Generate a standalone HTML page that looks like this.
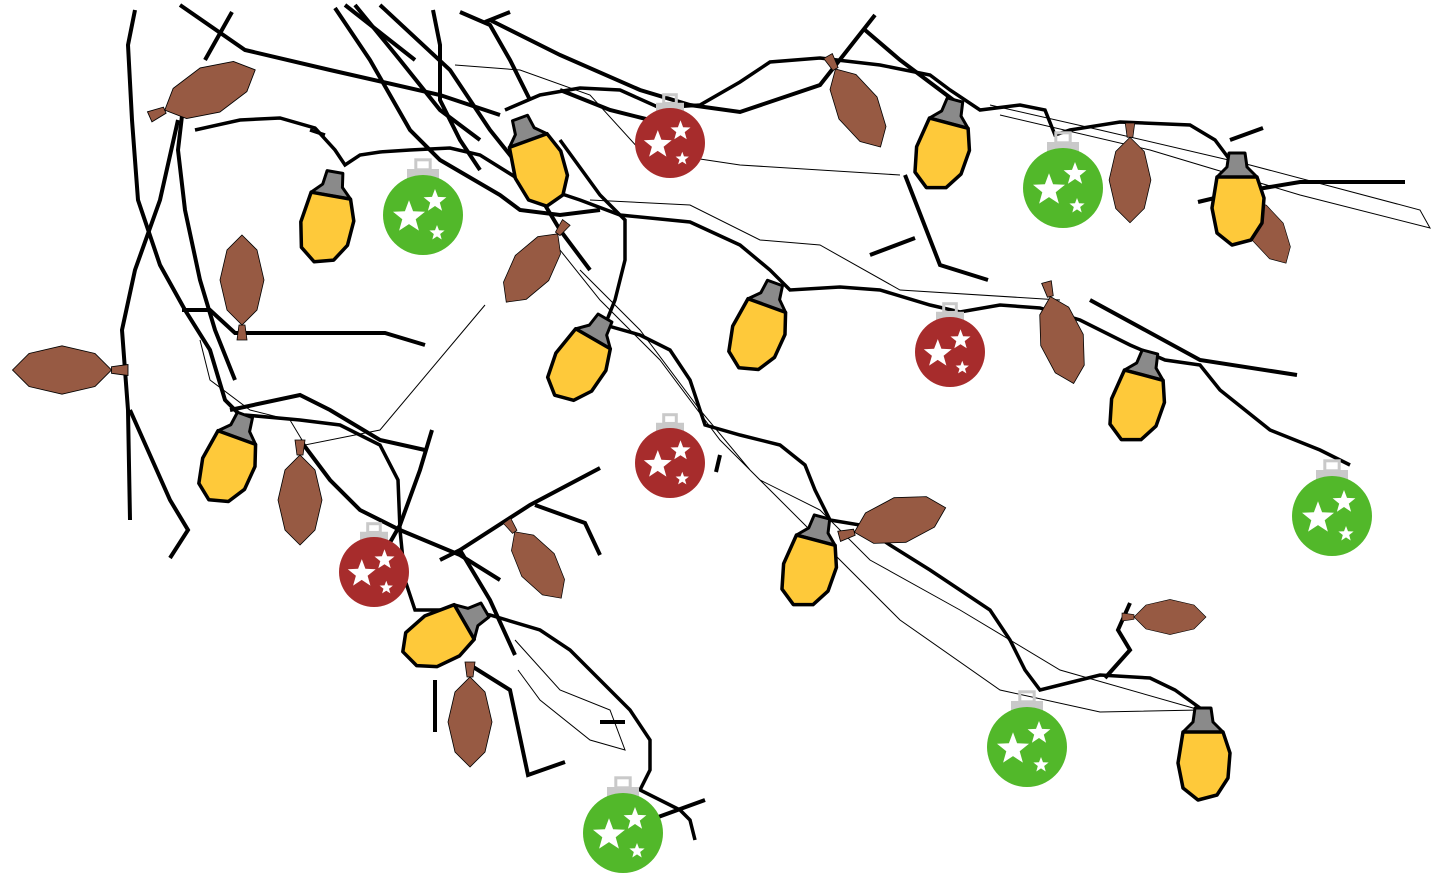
<!DOCTYPE html>
<html><head><meta charset="utf-8"><style>
html,body{margin:0;padding:0;background:#fff;width:1433px;height:882px;overflow:hidden}
svg{display:block}
</style></head><body>
<svg id="art" width="1433" height="882" viewBox="0 0 1433 882" xmlns="http://www.w3.org/2000/svg">
<g fill="none" stroke="#000" stroke-width="1">
<path d="M455,65 L520,70 L590,95 L640,150 L740,165 L900,175"/>
<path d="M990,105 L1100,130 L1250,165 L1420,210 L1430,228 L1300,195 L1150,150 L1000,115"/>
<path d="M200,340 L210,380 L250,410 L290,420 L305,445 L380,430 L485,305"/>
<path d="M560,250 L600,300 L660,360 L720,440 L760,480 L820,510 L870,560 L960,610 L1060,670 L1200,710 L1100,712 L1000,690 L900,620 L830,550 L750,470 L700,410 L640,330 L580,270"/>
<path d="M515,640 L560,690 L610,710 L625,750 L590,740 L540,700 L518,670"/>
<path d="M590,200 L690,205 L760,240 L820,245 L900,290 L1060,300"/>
</g>
<g fill="none" stroke="#000" stroke-width="4" stroke-linecap="butt">
<path d="M135,10 L128,45 L132,120 L138,200 L160,265 L185,310 L210,350 L225,400 L240,415"/>
<path d="M178,120 L160,200 L135,270 L122,330 L128,410 L130,520"/>
<path d="M130,410 L170,500 L188,530 L170,558"/>
<path d="M180,5 L245,50 L330,70 L440,95 L500,115"/>
<path d="M232,12 L205,60"/>
<path d="M182,310 L210,310 L235,333 L385,333 L425,345"/>
<path d="M185,90 L178,150 L185,210 L200,280 L215,330 L235,380"/>
<path d="M335,8 L370,60 L410,130 L440,160 L500,195 L520,210 L560,215 L600,210"/>
<path d="M345,5 L415,60"/>
<path d="M380,5 L450,70 L490,130 L530,180 L560,230 L590,270"/>
<path d="M355,5 L400,60 L440,110 L480,140"/>
<path d="M433,10 L440,45 L440,100 L460,140 L480,170"/>
<path d="M460,12 L490,25 L510,60 L530,100"/>
<path d="M485,22 L510,12"/>
<path d="M560,90 L610,110 L650,120"/>
<path d="M490,20 L560,55 L640,90 L690,105 L740,112 L820,85 L875,15"/>
<path d="M865,30 L900,60 L940,90 L960,105"/>
<path d="M905,175 L940,265 L988,280"/>
<path d="M870,255 L915,238"/>
<path d="M1230,140 L1263,128"/>
<path d="M1198,202 L1240,192 L1300,182 L1405,182"/>
<path d="M1090,300 L1200,360 L1297,375"/>
<path d="M230,410 L300,395 L330,410 L380,440 L425,450"/>
<path d="M432,430 L420,470 L400,525 L380,560"/>
<path d="M600,468 L530,505 L460,550 L440,560"/>
<path d="M535,505 L585,523 L600,555"/>
<path d="M460,550 L490,600 L515,655"/>
<path d="M300,440 L330,480 L360,510 L400,530 L460,555 L500,580"/>
<path d="M435,680 L435,732"/>
<path d="M470,665 L510,690 L528,775 L565,762"/>
<path d="M720,455 L716,472"/>
<path d="M1130,603 L1118,630 L1130,650 L1105,678"/>
<path d="M600,722 L625,722"/>
<path d="M650,820 L705,800"/>
</g>
<g fill="none" stroke="#000" stroke-width="3.5">
<path d="M195,130 L240,120 L280,118 L315,128 L335,150 L345,165 L360,155 L380,152 L410,150 L450,148 L480,155 L520,180 L550,190 L580,200 L620,215 L690,222 L740,245 L770,270 L790,290 L840,287 L880,290 L930,305 L960,312 L1000,305 L1040,308 L1080,320 L1130,345 L1165,360 L1200,365 L1220,390 L1270,430 L1320,450 L1350,465"/>
<path d="M505,110 L540,95 L580,88 L620,90 L660,108 L700,105 L740,82 L770,62 L820,58 L880,65 L930,75 L950,90 L980,110 L1020,105 L1045,110 L1055,135 L1070,130 L1120,122 L1190,125 L1215,140 L1230,160"/>
<path d="M310,130 L325,135"/>
<path d="M560,140 L600,195 L625,220 L625,260 L615,300 L605,325 L640,335 L670,350 L690,380 L705,425 L740,435 L780,445 L805,465 L815,490 L830,520 L860,525 L890,545 L930,570 L960,590 L990,610 L1010,640 L1025,670 L1040,690 L1060,685 L1100,675 L1150,678 L1175,690 L1200,708"/>
<path d="M245,415 L300,420 L340,425 L380,445 L398,480 L400,530 L405,580 L415,610 L455,610 L490,615 L540,630 L570,650 L600,680 L630,710 L650,740 L650,770 L640,790 L680,810 L690,820 L695,840"/>
</g>
<g id="leaves"></g>
<g id="bulbs"></g>
<g id="ornaments"></g>
</svg>
<script>
var NS='http://www.w3.org/2000/svg';
function mk(tag,attrs,parent){var e=document.createElementNS(NS,tag);for(var k in attrs)e.setAttribute(k,attrs[k]);parent.appendChild(e);return e;}
var leafData=[[210,90,66,1.1],[242,280,0,1],[62,370,-90,1.1],[858,108,150,1],[1130,180,180,0.95],[1268,232,150,0.8],[532,268,217,0.95],[1062,340,165,1],[300,500,180,1],[538,565,145,0.9],[470,722,180,1],[900,520,75,1.05],[1170,617,90,0.8]];
var lg=document.getElementById('leaves');
leafData.forEach(function(d){
  var g=mk('g',{transform:'translate('+d[0]+','+d[1]+') rotate('+d[2]+') scale('+d[3]+')'},lg);
  
  
  mk('path',{d:'M-3,45 L-5,60 L5,60 L3,45 Z',fill:'#975a43',stroke:'#000','stroke-width':0.8},g);
  mk('path',{d:'M0,-45 L15,-30 L22,0 L15,30 L0,45 L-15,30 L-22,0 L-15,-30 Z',fill:'#975a43',stroke:'#000','stroke-width':0.8},g);
});
var bulbData=[[335,172,10],[520,118,-20],[605,318,30],[775,283,20],[955,100,15],[1237,153,0],[1150,352,15],[245,415,20],[485,610,60],[822,517,15],[1203,708,0]];
var bg=document.getElementById('bulbs');
bulbData.forEach(function(d){
  var g=mk('g',{transform:'translate('+d[0]+','+d[1]+') rotate('+d[2]+')'},bg);
  
  
  mk('path',{d:'M-8,0 L8,0 L10,14 L20,24 L-20,24 L-10,14 Z',fill:'#8a8a8a',stroke:'#000','stroke-width':3,'stroke-linejoin':'round'},g);
  mk('path',{d:'M-20,24 L20,24 L27,45 L25,70 L14,87 L-5,92 L-20,80 L-25,55 Z',fill:'#fec93a',stroke:'#000','stroke-width':3.5,'stroke-linejoin':'round'},g);
});
var ornData=[[423,215,40,'#52b82a'],[1063,188,40,'#52b82a'],[1332,516,40,'#52b82a'],[1027,747,40,'#52b82a'],[623,833,40,'#52b82a'],[670,143,35,'#a72c2c'],[950,352,35,'#a72c2c'],[670,463,35,'#a72c2c'],[374,572,35,'#a72c2c']];
var og=document.getElementById('ornaments');
function star(cx,cy,r){var p=[];for(var i=0;i<10;i++){var a=-Math.PI/2+i*Math.PI/5;var rr=i%2?r*0.42:r;p.push((cx+rr*Math.cos(a)).toFixed(1)+','+(cy+rr*Math.sin(a)).toFixed(1));}return p.join(' ');}
ornData.forEach(function(d){
  var r=d[2];
  var g=mk('g',{transform:'translate('+d[0]+','+d[1]+')'},og);
  
  
  mk('rect',{x:-r*0.4,y:-r*1.15,width:r*0.8,height:r*0.32,fill:'#c9c9c9'},g);
  mk('rect',{x:-r*0.18,y:-r*1.38,width:r*0.36,height:r*0.25,fill:'none',stroke:'#c9c9c9','stroke-width':3},g);
  mk('circle',{cx:0,cy:0,r:r,fill:d[3]},g);
  mk('polygon',{points:star(-r*0.35,r*0.05,r*0.42),fill:'#fff'},g);
  mk('polygon',{points:star(r*0.3,-r*0.35,r*0.3),fill:'#fff'},g);
  mk('polygon',{points:star(r*0.35,r*0.45,r*0.2),fill:'#fff'},g);
});
</script>
</body></html>
